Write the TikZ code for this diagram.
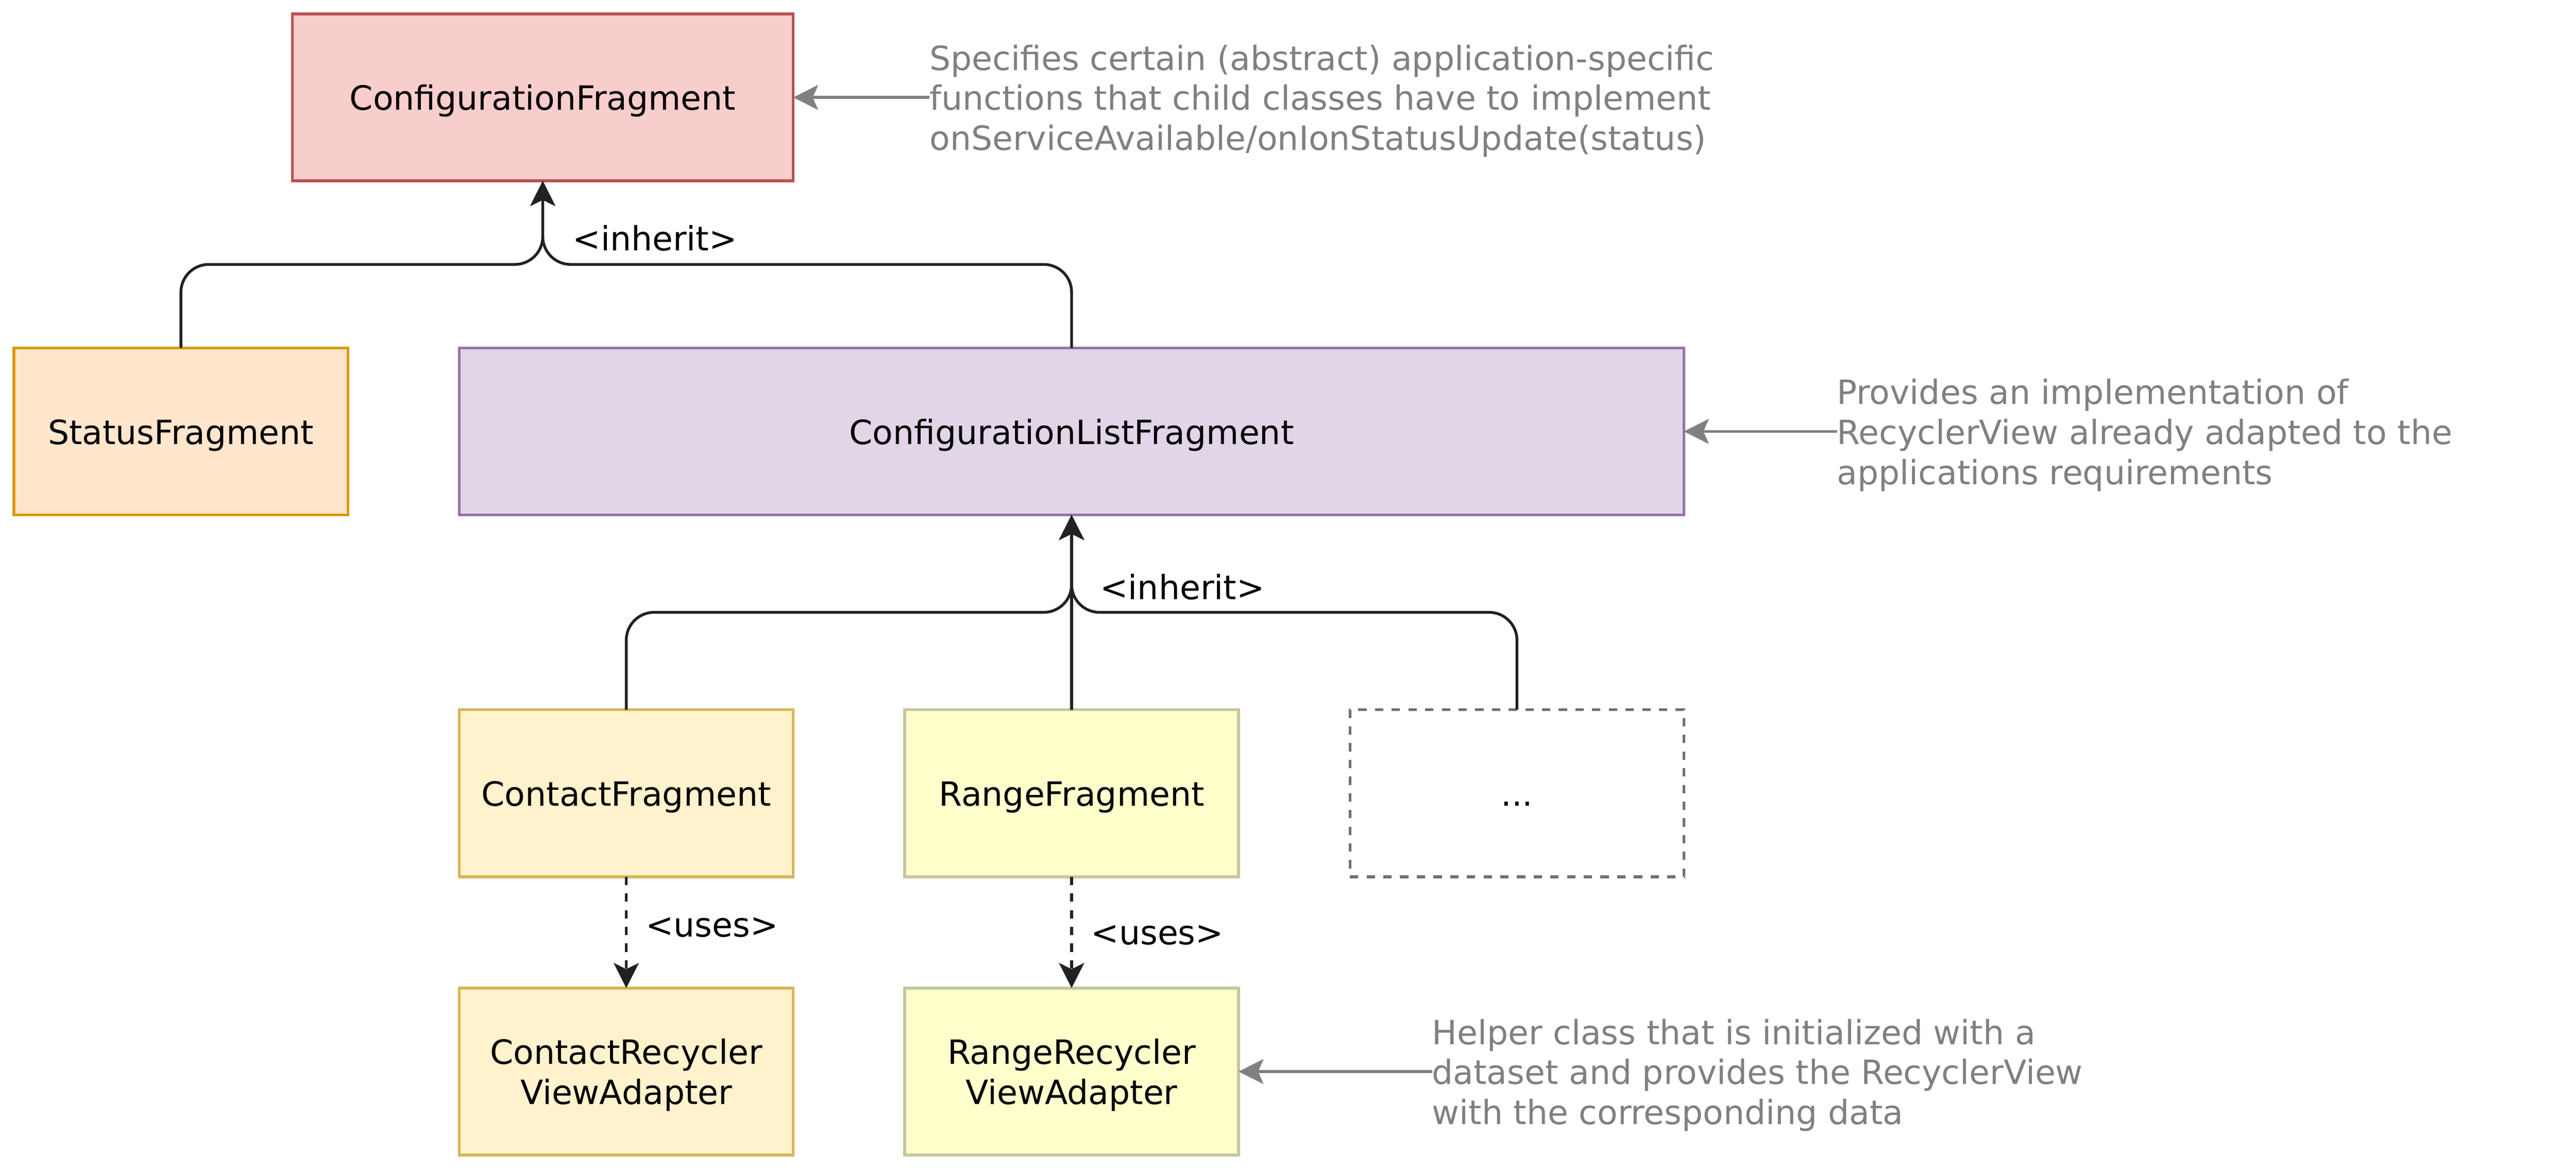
\documentclass[tikz,border=0pt]{standalone}
\usepackage{fontspec}
\setmainfont{DejaVu Sans}
\usepackage{array}
\usetikzlibrary{arrows.meta}
\definecolor{cfFill}{HTML}{F8CECC}\definecolor{cfLine}{HTML}{B85450}
\definecolor{stFill}{HTML}{FFE6CC}\definecolor{stLine}{HTML}{D79B00}
\definecolor{lsFill}{HTML}{E1D5E7}\definecolor{lsLine}{HTML}{9673A6}
\definecolor{ctFill}{HTML}{FFF2CC}\definecolor{ctLine}{HTML}{D6B656}
\definecolor{rgFill}{HTML}{FFFFCC}\definecolor{rgLine}{HTML}{C6C69F}
\definecolor{dotLine}{HTML}{6F6F6F}
\definecolor{noteGray}{HTML}{808080}
\definecolor{edgeCol}{HTML}{212121}
\newcommand{\dstrut}{\rule[-2.6pt]{0pt}{14.4pt}}
\newcommand{\dtxt}[2][c]{{\renewcommand{\arraystretch}{0}\begin{tabular}{@{}>{\dstrut}#1@{}}#2\end{tabular}}}
\tikzset{
  dfont/.style={font=\fontsize{12}{14.4}\selectfont},
  box/.style={dfont, draw, line width=1pt, minimum width=120pt, minimum height=60pt,
    inner sep=0pt, outer sep=0pt, text=black},
  note/.style={dfont, inner sep=0pt, outer sep=0pt, anchor=west, text=noteGray},
  elabel/.style={dfont, inner sep=0pt, outer sep=0pt, anchor=west, text=black},
  inh/.style={draw=edgeCol, line width=1pt, rounded corners=10pt,
    -{Stealth[length=9pt,width=9pt,inset=2.2pt]}},
  usesarrow/.style={draw=edgeCol, line width=1pt, dash pattern=on 3pt off 3pt,
    -{Stealth[length=9pt,width=9pt,inset=2.2pt]}},
  notearrow/.style={draw=noteGray, line width=1pt,
    -{Stealth[length=8.9pt,width=8.9pt,inset=1.9pt]}},
}
\begin{document}
\begin{tikzpicture}[x=1pt,y=-1pt]
\useasboundingbox (-5,-5) rectangle (920.5,415.67);
% boxes
\node[box, fill=cfFill, draw=cfLine, minimum width=180pt] (cf) at (190,30) {\dtxt{ConfigurationFragment}};
\node[box, fill=stFill, draw=stLine] (status) at (60,150) {\dtxt{StatusFragment}};
\node[box, fill=lsFill, draw=lsLine, minimum width=440pt] (list) at (380,150) {\dtxt{ConfigurationListFragment}};
\node[box, fill=ctFill, draw=ctLine] (contact) at (220,280) {\dtxt{ContactFragment}};
\node[box, fill=rgFill, draw=rgLine] (range) at (380,280) {\dtxt{RangeFragment}};
\node[box, draw=dotLine, dash pattern=on 3pt off 3pt] (dots) at (540,280) {\dtxt{...}};
\node[box, fill=ctFill, draw=ctLine] (cadapter) at (220,380) {\dtxt{ContactRecycler\\ViewAdapter}};
\node[box, fill=rgFill, draw=rgLine] (radapter) at (380,380) {\dtxt{RangeRecycler\\ViewAdapter}};
% notes
\node[note] (note1) at (329,30) {\dtxt[l]{Specifies certain (abstract) application-specific\\functions that child classes have to implement\\onServiceAvailable/onIonStatusUpdate(status)}};
\node[note] (note2) at (655,150) {\dtxt[l]{Provides an implementation of\\RecyclerView already adapted to the\\applications requirements}};
\node[note] (note3) at (509.5,380) {\dtxt[l]{Helper class that is initialized with a\\dataset and provides the RecyclerView\\with the corresponding data}};
% junctions
\coordinate (j1) at (190,90);
\coordinate (j2) at (380,215);
% inheritance
\draw[inh] (status.north) -- (status.north |- j1) -- (j1) -- (cf.south);
\draw[inh] (list.north) -- (list.north |- j1) -- (j1) -- (cf.south);
\draw[inh] (contact.north) -- (contact.north |- j2) -- (j2) -- (list.south);
\draw[inh] (range.north) -- (list.south);
\draw[inh] (dots.north) -- (dots.north |- j2) -- (j2) -- (list.south);
\node[elabel] (lab1) at (200.8,80.4) {\dtxt{<inherit>}};
\node[elabel] (lab2) at (390.3,205.8) {\dtxt{<inherit>}};
% uses
\draw[usesarrow] (contact.south) -- (cadapter.north);
\draw[usesarrow] (range.south) -- (radapter.north);
\node[elabel] (lab3) at (227,327) {\dtxt{<uses>}};
\node[elabel] (lab4) at (387,329.8) {\dtxt{<uses>}};
% note arrows
\draw[notearrow] (note1.west |- cf.east) -- (cf.east);
\draw[notearrow] (note2.west |- list.east) -- (list.east);
\draw[notearrow] (note3.west |- radapter.east) -- (radapter.east);
\end{tikzpicture}
\end{document}
